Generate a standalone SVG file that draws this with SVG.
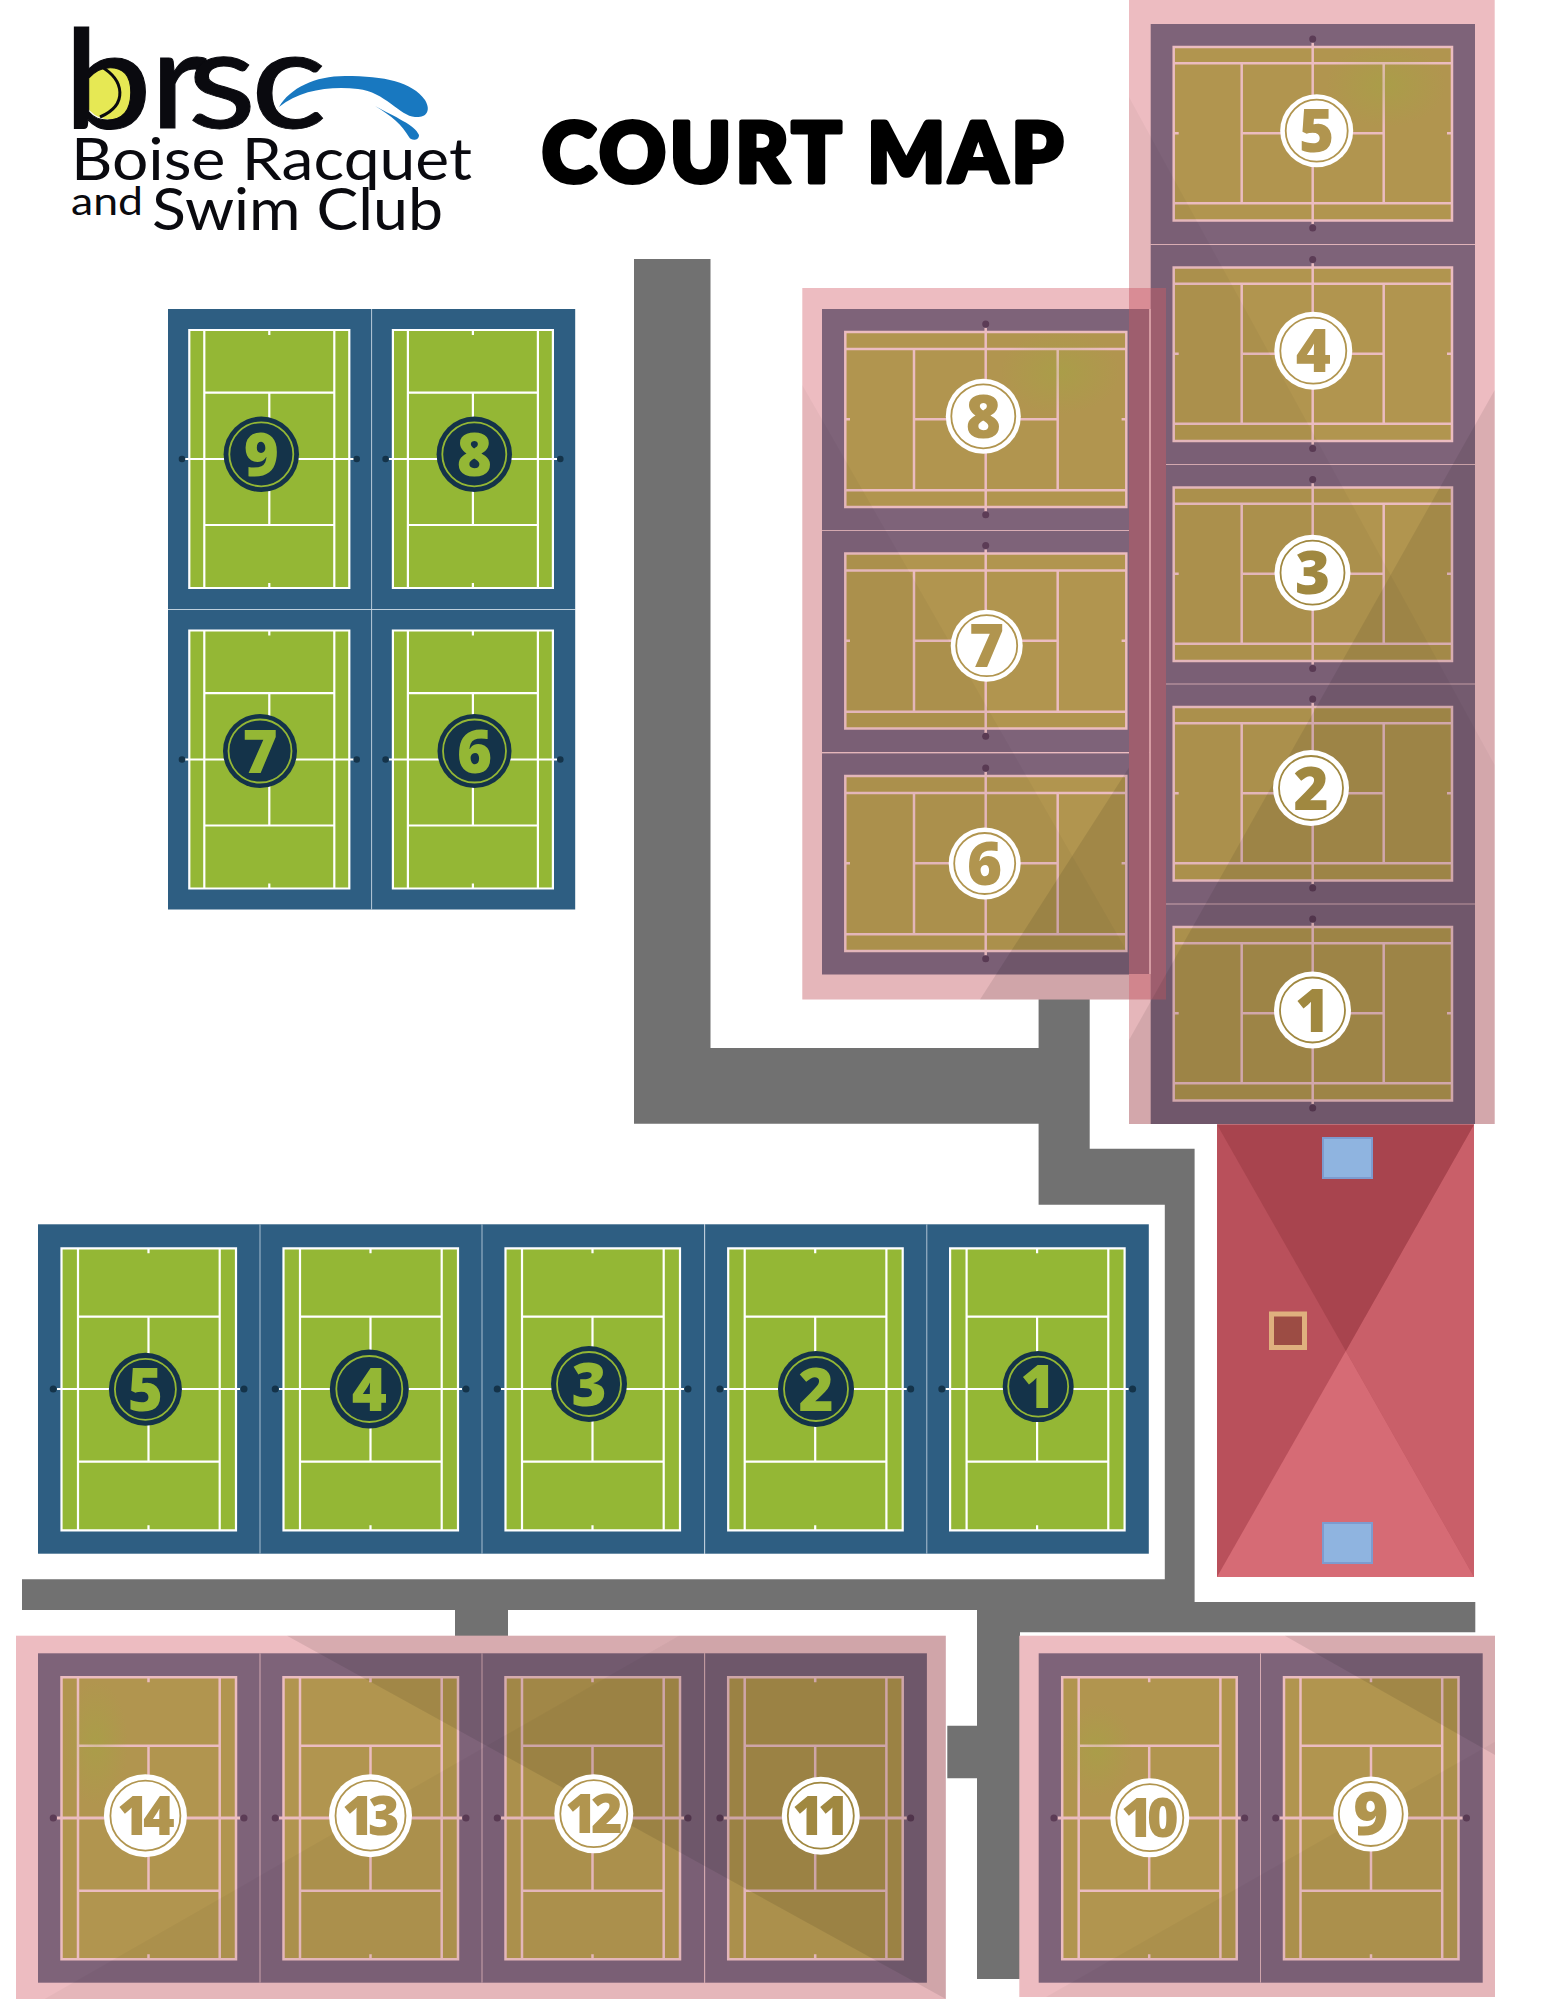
<svg xmlns="http://www.w3.org/2000/svg" width="1545" height="2000" viewBox="0 0 1545 2000">
<style>
.t{fill:#2e5e82}.c{fill:#94b735}.l{fill:none;stroke:#fff;stroke-width:2.2}.d{fill:#143349}
.pt{fill:#7e6379}.pc{fill:#b1954f}.pl{fill:none;stroke:#ebbcc0;stroke-width:2.5}.pn{fill:none;stroke:#ebbcc0;stroke-width:3.2}.pd{fill:#5c3c56}
.band{fill:#edbcc1}.sep{stroke:#c9d8e4;stroke-width:.8}.psep{stroke:#ebbcc0;stroke-width:.8}
.num{font-family:"Open Sans","Liberation Sans",sans-serif;font-weight:800;font-size:60px;text-anchor:middle}
.two{font-size:54px;letter-spacing:-6px}
.nd{fill:#94b735}.ng{fill:#b1954f}.nh{fill:#a08840}
.bk{fill:#143349}.wh{fill:#fff}
.rg{fill:none;stroke:#94b735;stroke-width:1.8}.ry{fill:none;stroke:#b1954f;stroke-width:1.8}.rh{fill:none;stroke:#a08840;stroke-width:1.8}
.logo{font-family:Lato,"Open Sans","Liberation Sans",sans-serif;fill:#0a0a0f}
</style>
<defs>
<radialGradient id="blob"><stop offset="0" stop-color="#94b735" stop-opacity=".24"/><stop offset="1" stop-color="#94b735" stop-opacity="0"/></radialGradient>
<g id="a"><rect class="t" width="203.6" height="300"/><rect class="c" x="21.3" y="21" width="160" height="258"/>
<path class="l" d="M21.3 21H181.3V279H21.3ZM36.3 21V279M166.3 21V279M36.3 83.7H166.3M36.3 216H166.3M101.3 83.7V216M101.3 21V26M101.3 274V279M17 150H186"/>
<circle class="d" cx="14" cy="150" r="3.3"/><circle class="d" cx="188.7" cy="150" r="3.3"/></g>
<g id="b"><rect class="t" width="222.2" height="329.4"/><rect class="c" x="23.5" y="24" width="174.5" height="282"/>
<path class="l" d="M23.5 24H198V306H23.5ZM40 24V306M181.7 24V306M40 92.4H181.7M40 237.4H181.7M110.5 92.4V237.4M110.5 24V29M110.5 301V306M19 164.7H202"/>
<circle class="d" cx="15.2" cy="164.7" r="3.5"/><circle class="d" cx="206" cy="164.7" r="3.5"/></g>
<g id="p"><rect class="pt" width="222.2" height="329.4"/><rect class="pc" x="23.5" y="24" width="174.5" height="282"/>
<path class="pl" d="M23.5 24H198V306H23.5ZM40 24V306M181.7 24V306M40 92.4H181.7M40 237.4H181.7M110.5 92.4V237.4M110.5 24V29M110.5 301V306"/><path class="pn" d="M19 164.7H202"/>
<circle class="pd" cx="15.2" cy="164.7" r="3.5"/><circle class="pd" cx="206" cy="164.7" r="3.5"/></g>
<g id="h"><rect class="pt" width="327.3" height="221.5"/><rect class="pc" x="23.3" y="23" width="281" height="175"/>
<path class="pl" d="M23.3 23H304.3V198H23.3ZM23.3 40H304.3M23.3 181.3H304.3M92 40V181.3M235.7 40V181.3M92 110.3H235.7M23.3 110.3H28M299.6 110.3H304.3M163.7 19V202.7"/>
<circle class="pd" cx="163.7" cy="15" r="3.5"/><circle class="pd" cx="163.7" cy="205.7" r="3.5"/></g>
<g id="v"><rect class="pt" width="324.3" height="220"/><rect class="pc" x="23" y="23" width="278.3" height="173.5"/>
<path class="pl" d="M23 23H301.3V196.5H23ZM23 39.3H301.3M23 179.3H301.3M91 39.3V179.3M233 39.3V179.3M91 109.3H233M23 109.3H28M296.3 109.3H301.3M162 18.7V200"/>
<circle class="pd" cx="162" cy="15" r="3.5"/><circle class="pd" cx="162" cy="204" r="3.5"/></g>
</defs>
<rect width="1545" height="2000" fill="#fff"/>

<g id="logo">
<ellipse cx="110" cy="90.5" rx="28" ry="29" fill="#e6e854"/>
<path d="M100 66C125 80 128 105 100 117" fill="none" stroke="#0a0a0f" stroke-width="3"/>
<text class="logo" transform="scale(1.15 1)" x="55 130 163 218" y="128" font-size="138" font-weight="400" stroke="#0a0a0f" stroke-width="1">brsc</text>
<path d="M279 107C290 88 315 76 345 76C385 76 412 82 425 100C432 112 425 118 415 117C400 116 385 92 358 89C330 86 300 90 279 107Z" fill="#1878c0"/>
<path d="M375 106C395 117 415 125 419 135C419 141 411 141 409 137C402 125 392 116 375 106Z" fill="#1878c0"/>
<text class="logo" x="71" y="180" font-size="59" textLength="401" lengthAdjust="spacingAndGlyphs">Boise Racquet</text>
<text class="logo" x="71" y="215" font-size="38" textLength="72" lengthAdjust="spacingAndGlyphs">and</text>
<text class="logo" x="152" y="229.5" font-size="58" textLength="291" lengthAdjust="spacingAndGlyphs">Swim Club</text>
</g>
<text id="title" x="542" y="182" font-family="Lato,Inter,'Liberation Sans',sans-serif" font-weight="900" font-size="82" fill="#000" stroke="#000" stroke-width="5" stroke-linejoin="round" textLength="521" lengthAdjust="spacing">COURT MAP</text>

<path id="paths" fill="#717171" d="M634 259H710.5V1048H1038.6V999H1089.7V1148.8H1194.6V1602H1475.3V1632.3H1020V1979H977V1778.3H947.3V1725.7H977V1610H508V1636H455V1610H22V1579.3H1164.8V1204.8H1038.6V1123.7H634Z"/>

<g id="green-courts-upper">
<use href="#a" x="168" y="309"/><use href="#a" x="371.6" y="309"/><use href="#a" x="168" y="609.5"/><use href="#a" x="371.6" y="609.5"/>
<path class="sep" d="M371.6 309V909.5M168 609.5H575.2"/>
<g id="g9"><circle class="bk" cx="261.3" cy="454.3" r="37.7"/><circle class="rg" cx="261.3" cy="454.3" r="32"/><text class="num nd" x="261.3" y="476">9</text></g>
<g id="g8"><circle class="bk" cx="474.3" cy="454.3" r="37.7"/><circle class="rg" cx="474.3" cy="454.3" r="32"/><text class="num nd" x="474.3" y="476">8</text></g>
<g id="g7"><circle class="bk" cx="260" cy="751" r="37"/><circle class="rg" cx="260" cy="751" r="31.5"/><text class="num nd" x="260" y="772.5">7</text></g>
<g id="g6"><circle class="bk" cx="474.5" cy="751" r="37"/><circle class="rg" cx="474.5" cy="751" r="31.5"/><text class="num nd" x="474.5" y="772.5">6</text></g>
</g>

<g id="green-courts-lower">
<use href="#b" x="38" y="1224.3"/><use href="#b" x="260" y="1224.3"/><use href="#b" x="482" y="1224.3"/><use href="#b" x="704.7" y="1224.3"/><use href="#b" x="926.6" y="1224.3"/>
<path class="sep" d="M260 1224.3V1553.7M482 1224.3V1553.7M704.7 1224.3V1553.7M926.8 1224.3V1553.7"/>
<g id="g5b"><circle class="bk" cx="145.4" cy="1389.3" r="36.5"/><circle class="rg" cx="145.4" cy="1389.3" r="30.5"/><text class="num nd" x="145.4" y="1410.5">5</text></g>
<g id="g4b"><circle class="bk" cx="369.3" cy="1389" r="39.5"/><circle class="rg" cx="369.3" cy="1389" r="33"/><text class="num nd" x="369.3" y="1410.5">4</text></g>
<g id="g3b"><circle class="bk" cx="589" cy="1384" r="38"/><circle class="rg" cx="589" cy="1384" r="32"/><text class="num nd" x="589" y="1405.5">3</text></g>
<g id="g2b"><circle class="bk" cx="816" cy="1389" r="38"/><circle class="rg" cx="816" cy="1389" r="32"/><text class="num nd" x="816" y="1410.5">2</text></g>
<g id="g1b"><circle class="bk" cx="1038.2" cy="1386.6" r="35.5"/><circle class="rg" cx="1038.2" cy="1386.6" r="30"/><text class="num nd" x="1038.2" y="1408">1</text></g>
</g>

<g id="pink-right">
<rect class="band" x="1129" y="0" width="365.7" height="1124"/>
<use href="#v" x="1150.7" y="24"/><use href="#v" x="1150.7" y="244.5"/><use href="#v" x="1150.7" y="464.5"/><use href="#v" x="1150.7" y="684"/><use href="#v" x="1150.7" y="904"/>
<path class="psep" d="M1150.7 244.5H1475M1150.7 464.5H1475M1150.7 684H1475M1150.7 904H1475"/>
<ellipse cx="1386" cy="85" rx="60" ry="42" fill="url(#blob)"/>
</g>
<g id="pink-center">
<rect class="band" x="802.3" y="288" width="326.7" height="711.5"/>
<use href="#h" x="822" y="309"/><use href="#h" x="822" y="530.5"/><use href="#h" x="822" y="753"/>
<path class="psep" d="M822 530.5H1149M822 753H1149"/>
<ellipse cx="1060" cy="372" rx="60" ry="42" fill="url(#blob)"/>
<rect x="1129" y="288" width="21.7" height="21" fill="#e0919a"/>
<rect x="1129" y="309" width="20.3" height="665" fill="#a46272"/>
<rect x="1129" y="974" width="21.7" height="25.5" fill="#d88a92"/>
<rect x="1150.7" y="288" width="15.3" height="711.5" fill="#a46272"/>
<rect x="1149.3" y="309" width="1.4" height="665" fill="#e8a8b0"/>
</g>
<g id="shade-right" fill="#000">
<path d="M1129 97L1494.7 765V1124H1129Z" opacity=".03"/>
<path d="M1494.7 390V1124H1129V1040Z" opacity=".08"/>
</g>
<g id="shade-center" fill="#000">
<path d="M802.3 385L1129 955V999.5H802.3Z" opacity=".03"/>
<path d="M1129 767.6V999.5H980Z" opacity=".09"/>
</g>

<g id="pink-bottom-left">
<rect class="band" x="16" y="1635.7" width="929.8" height="363.3"/>
<use href="#p" x="38" y="1653.3"/><use href="#p" x="260" y="1653.3"/><use href="#p" x="482" y="1653.3"/><use href="#p" x="704.7" y="1653.3"/>
<path class="psep" d="M260 1653.3V1982.7M482 1653.3V1982.7M704.7 1653.3V1982.7"/>
<ellipse cx="96" cy="1743" rx="32" ry="62" fill="url(#blob)"/>
<g fill="#000"><path d="M287 1635.7H945.8V1999Z" opacity=".09"/><path d="M679 1635.7H945.8V1999H44.6Z" opacity=".03"/></g>
</g>
<g id="pink-bottom-right">
<rect class="band" x="1019.3" y="1635.7" width="475.7" height="361.3"/>
<use href="#p" x="1038.7" y="1653.3"/><use href="#p" x="1260.5" y="1653.3"/>
<path class="psep" d="M1260.5 1653.3V1982.7"/>
<ellipse cx="1097" cy="1750" rx="36" ry="46" fill="url(#blob)"/>
<g fill="#000"><path d="M1284.8 1635.7H1495V1755Z" opacity=".09"/><path d="M1495 1741.7V1997H1046Z" opacity=".03"/></g>
</g>

<g id="labels-pink">
<g id="r5"><circle class="wh" cx="1316.7" cy="130.7" r="36.5"/><circle class="ry" cx="1316.7" cy="130.7" r="31"/><text class="num ng" x="1316.7" y="152">5</text></g>
<g id="r4"><circle class="wh" cx="1313.3" cy="350.7" r="39"/><circle class="ry" cx="1313.3" cy="350.7" r="33"/><text class="num ng" x="1313.3" y="372">4</text></g>
<g id="r3"><circle class="wh" cx="1312.5" cy="572.7" r="38"/><circle class="rh" cx="1312.5" cy="572.7" r="32"/><text class="num nh" x="1312.5" y="594">3</text></g>
<g id="r2"><circle class="wh" cx="1311" cy="788" r="38"/><circle class="rh" cx="1311" cy="788" r="32"/><text class="num nh" x="1311" y="809.5">2</text></g>
<g id="r1"><circle class="wh" cx="1312.5" cy="1010" r="38.5"/><circle class="rh" cx="1312.5" cy="1010" r="32.5"/><text class="num nh" x="1312.5" y="1031.5">1</text></g>
<g id="c8"><circle class="wh" cx="983.3" cy="416.3" r="37.5"/><circle class="ry" cx="983.3" cy="416.3" r="32"/><text class="num ng" x="983.3" y="437.5">8</text></g>
<g id="c7"><circle class="wh" cx="986.7" cy="645.7" r="36"/><circle class="ry" cx="986.7" cy="645.7" r="30.5"/><text class="num ng" x="986.7" y="667">7</text></g>
<g id="c6"><circle class="wh" cx="984.7" cy="863.5" r="36"/><circle class="ry" cx="984.7" cy="863.5" r="30.5"/><text class="num ng" x="984.7" y="885">6</text></g>
<g id="b14"><circle class="wh" cx="145.4" cy="1815.7" r="41.5"/><circle class="ry" cx="145.4" cy="1815.7" r="35"/><text class="num two ng" x="143" y="1835">14</text></g>
<g id="b13"><circle class="wh" cx="370.5" cy="1815.7" r="41.5"/><circle class="ry" cx="370.5" cy="1815.7" r="35"/><text class="num two ng" x="368" y="1835">13</text></g>
<g id="b12"><circle class="wh" cx="593.8" cy="1813.7" r="39.5"/><circle class="ry" cx="593.8" cy="1813.7" r="33.5"/><text class="num two ng" x="591" y="1833">12</text></g>
<g id="b11"><circle class="wh" cx="820.8" cy="1815.7" r="39"/><circle class="rh" cx="820.8" cy="1815.7" r="33"/><text class="num two nh" x="818" y="1835">11</text></g>
<g id="b10"><circle class="wh" cx="1149.8" cy="1817.7" r="39.5"/><circle class="ry" cx="1149.8" cy="1817.7" r="33.5"/><text class="num two ng" x="1147" y="1837">10</text></g>
<g id="b9"><circle class="wh" cx="1370.8" cy="1814" r="37.5"/><circle class="ry" cx="1370.8" cy="1814" r="32"/><text class="num ng" x="1370.8" y="1835">9</text></g>
</g>

<g id="building">
<rect x="1217" y="1124.4" width="257" height="452.6" fill="#b9505b"/>
<path d="M1474 1124.4V1577L1345.8 1351Z" fill="#c95f69"/>
<path d="M1217 1577L1345.8 1351L1474 1577Z" fill="#d66b75"/>
<path d="M1217 1124.4H1474L1345.8 1351Z" fill="#a8444e"/>
<rect x="1323" y="1138" width="49" height="40" fill="#8fb4e0" stroke="#7d9bcf" stroke-width="2"/>
<rect x="1323" y="1523" width="49" height="40" fill="#8fb4e0" stroke="#7d9bcf" stroke-width="2"/>
<rect x="1271.5" y="1314" width="33" height="33.5" fill="#9c4c44" stroke="#dfb07e" stroke-width="5"/>
</g>
</svg>
